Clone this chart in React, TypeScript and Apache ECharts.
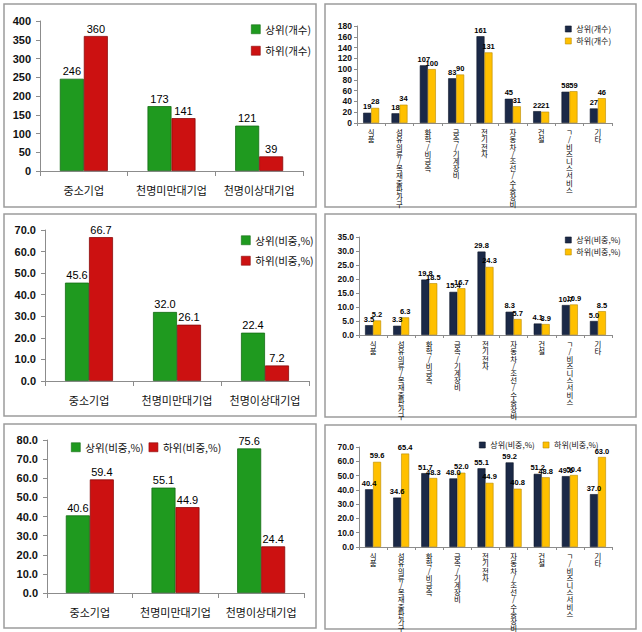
import React, { useEffect, useRef } from 'react';
import * as echarts from 'echarts';

const sizeCats = ['중소기업', '천명미만대기업', '천명이상대기업'];
const indCats = ['식품', '섬유의류/목재출판가구', '화학/비금속', '금속/기계장비', '전기전자', '자동차/조선/수송장비', '건설', 'ㄱ/비즈니스서비스', '기타'];

const sizeTopCount = [246, 173, 121];
const sizeBottomCount = [360, 141, 39];
const sizeTopShare = [45.6, 32.0, 22.4];
const sizeBottomShare = [66.7, 26.1, 7.2];
const sizeTopRatio = [40.6, 55.1, 75.6];
const sizeBottomRatio = [59.4, 44.9, 24.4];

const indTopCount = [19, 18, 107, 83, 161, 45, 22, 58, 27];
const indBottomCount = [28, 34, 100, 90, 131, 31, 21, 59, 46];
const indTopShare = [3.5, 3.3, 19.8, 15.4, 29.8, 8.3, 4.1, 10.7, 5.0];
const indBottomShare = [5.2, 6.3, 18.5, 16.7, 24.3, 5.7, 3.9, 10.9, 8.5];
const indTopRatio = [40.4, 34.6, 51.7, 48.0, 55.1, 59.2, 51.2, 49.6, 37.0];
const indBottomRatio = [59.6, 65.4, 48.3, 52.0, 44.9, 40.8, 48.8, 50.4, 63.0];

const nameTopCount = '상위(개수)';
const nameBottomCount = '하위(개수)';
const nameTopPct = '상위(비중,%)';
const nameBottomPct = '하위(비중,%)';

const GREEN = '#1f9a1f';
const GREEN_B = '#146c14';
const RED = '#cc1111';
const RED_B = '#8a0a0a';
const NAVY = '#1b2947';
const NAVY_B = '#0d1628';
const YELLOW = '#ffc000';
const YELLOW_B = '#b88a00';

const KR = '"Noto Sans CJK KR", "Noto Sans", sans-serif';
const NUM = '"Liberation Sans", Arial, sans-serif';

export default function App() {
  const ref = useRef<HTMLDivElement>(null);
  useEffect(() => {
    if (!ref.current) return;
    const chart = echarts.init(ref.current, null, { renderer: 'svg' });

    const grids = [
      { left: 40, top: 21, width: 263, height: 150 },
      { left: 45, top: 230, width: 264, height: 151 },
      { left: 47, top: 440, width: 257, height: 153 },
      { left: 357, top: 26, width: 255, height: 97 },
      { left: 359, top: 237, width: 253, height: 98 },
      { left: 359, top: 447, width: 253, height: 100 },
    ];
    const yDefs = [
      { max: 400, interval: 50, dec: 0 },
      { max: 70, interval: 10, dec: 1 },
      { max: 80, interval: 10, dec: 1 },
      { max: 180, interval: 20, dec: 0 },
      { max: 35, interval: 5, dec: 1 },
      { max: 70, interval: 10, dec: 1 },
    ];

    const xAxis = grids.map((g, i) => {
      const big = i < 3;
      return {
        type: 'category',
        gridIndex: i,
        data: big ? sizeCats : indCats,
        axisLine: { lineStyle: { color: '#8c8c8c', width: 1 } },
        axisTick: { show: true, length: big ? 5 : 3, lineStyle: { color: '#8c8c8c' } },
        axisLabel: big
          ? { color: '#111', fontFamily: KR, fontSize: 11, margin: 13, interval: 0 }
          : {
              color: '#000', fontFamily: KR, fontSize: 7.4, lineHeight: 7.2, margin: 5, interval: 0,
              formatter: (v: string) => v.split('').join('\n'),
            },
      };
    });
    const yAxis = yDefs.map((d, i) => {
      const big = i < 3;
      return {
        type: 'value',
        gridIndex: i,
        min: 0,
        max: d.max,
        interval: d.interval,
        splitLine: { show: false },
        axisLine: { show: true, lineStyle: { color: '#8c8c8c', width: 1 } },
        axisTick: { show: true, length: big ? 4 : 3, lineStyle: { color: '#8c8c8c' } },
        axisLabel: {
          color: '#111', fontFamily: NUM, fontWeight: 'bold', fontSize: big ? 11 : 8.5, margin: big ? 9 : 5,
          formatter: (v: number) => v.toFixed(d.dec),
        },
      };
    });

    const mk = (i: number, name: string, data: number[], color: string, border: string, dec: number) => {
      const big = i < 3;
      return {
        type: 'bar',
        name,
        xAxisIndex: i,
        yAxisIndex: i,
        data,
        barWidth: big ? 24 : 8,
        barGap: '0%',
        itemStyle: { color, borderColor: border, borderWidth: big ? 0.8 : 0.6 },
        label: {
          show: true,
          position: 'top',
          distance: 2,
          color: '#000',
          fontFamily: NUM,
          fontSize: big ? 11 : 7.5,
          fontWeight: big ? 'normal' : 'bold',
          formatter: (p: any) => Number(p.value).toFixed(dec),
        },
      };
    };

    const series = [
      mk(0, nameTopCount, sizeTopCount, GREEN, GREEN_B, 0),
      mk(0, nameBottomCount, sizeBottomCount, RED, RED_B, 0),
      mk(1, nameTopPct, sizeTopShare, GREEN, GREEN_B, 1),
      mk(1, nameBottomPct, sizeBottomShare, RED, RED_B, 1),
      mk(2, nameTopPct, sizeTopRatio, GREEN, GREEN_B, 1),
      mk(2, nameBottomPct, sizeBottomRatio, RED, RED_B, 1),
      mk(3, nameTopCount, indTopCount, NAVY, NAVY_B, 0),
      mk(3, nameBottomCount, indBottomCount, YELLOW, YELLOW_B, 0),
      mk(4, nameTopPct, indTopShare, NAVY, NAVY_B, 1),
      mk(4, nameBottomPct, indBottomShare, YELLOW, YELLOW_B, 1),
      mk(5, nameTopPct, indTopRatio, NAVY, NAVY_B, 1),
      mk(5, nameBottomPct, indBottomRatio, YELLOW, YELLOW_B, 1),
    ];

    const leg = (
      left: number, top: number, orient: string, names: string[], colors: string[], borders: string[],
      big: boolean, gap: number,
    ) => ({
      left, top, orient,
      itemGap: gap,
      itemWidth: big ? 9 : 6,
      itemHeight: big ? 9 : 6,
      icon: 'rect',
      selectedMode: false,
      textStyle: { color: '#111', fontFamily: KR, fontSize: big ? 10.5 : 8 },
      data: names.map((n, k) => ({ name: n, itemStyle: { color: colors[k], borderColor: borders[k], borderWidth: 0.6 } })),
    });

    const legend = [
      leg(246, 19, 'vertical', [nameTopCount, nameBottomCount], [GREEN, RED], [GREEN_B, RED_B], true, 11),
      leg(236, 230, 'vertical', [nameTopPct, nameBottomPct], [GREEN, RED], [GREEN_B, RED_B], true, 10),
      leg(66, 437, 'horizontal', [nameTopPct, nameBottomPct], [GREEN, RED], [GREEN_B, RED_B], true, 5),
      leg(560, 20, 'vertical', [nameTopCount, nameBottomCount], [NAVY, YELLOW], [NAVY_B, YELLOW_B], false, 4),
      leg(560, 231, 'vertical', [nameTopPct, nameBottomPct], [NAVY, YELLOW], [NAVY_B, YELLOW_B], false, 4),
      leg(474, 436, 'horizontal', [nameTopPct, nameBottomPct], [NAVY, YELLOW], [NAVY_B, YELLOW_B], false, 8),
    ];

    const panels = [
      [4, 4, 312, 203], [4, 214, 312, 202], [4, 424, 312, 204],
      [325, 4, 311, 203], [325, 214, 311, 203], [325, 425, 311, 204],
    ];
    const graphic = panels.map(([x, y, w, h]) => ({
      type: 'rect',
      z: -10,
      silent: true,
      shape: { x, y, width: w, height: h },
      style: { fill: '#ffffff', stroke: '#9c9c9c', lineWidth: 1.5 },
    }));

    chart.setOption({
      animation: false,
      backgroundColor: '#ffffff',
      grid: grids,
      xAxis,
      yAxis,
      series,
      legend,
      graphic,
    } as any);
    return () => chart.dispose();
  }, []);
  return <div ref={ref} style={{ position: 'fixed', left: 0, top: 0, width: 642, height: 632 }} />;
}
